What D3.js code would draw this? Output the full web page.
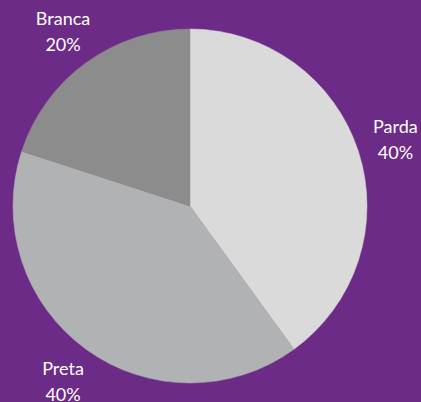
<!DOCTYPE html>
<html>
<head>
<meta charset="utf-8">
<script src="https://cdn.jsdelivr.net/npm/d3@7"></script>
<style>
  html, body { margin: 0; padding: 0; background: #6b2b86; }
  #chart { width: 421px; height: 402px; }
</style>
</head>
<body>
<div id="chart"></div>
<script>
const width = 421;
const height = 402;

// dados do gráfico
const categorias = ["Parda", "Preta", "Branca"];
const valores = [40, 40, 20];
const cores = ["#dadada", "#b1b2b4", "#8c8c8c"];

const cx = 190, cy = 206, raio = 177, raioRotulo = 216;

const svg = d3.select("#chart")
    .append("svg")
    .attr("width", width)
    .attr("height", height);

svg.append("rect")
    .attr("width", width)
    .attr("height", height)
    .attr("fill", "#6b2b86");

const g = svg.append("g").attr("transform", `translate(${cx},${cy})`);

const pie = d3.pie().sort(null).value(d => d.valor);
const dados = categorias.map((c, i) => ({ nome: c, valor: valores[i], cor: cores[i] }));
const arcos = pie(dados);

const arc = d3.arc().innerRadius(0).outerRadius(raio);
const arcRotulo = d3.arc().innerRadius(raioRotulo).outerRadius(raioRotulo);

g.selectAll("path")
    .data(arcos)
    .enter()
    .append("path")
    .attr("d", arc)
    .attr("fill", d => d.data.cor)
    .attr("stroke", d => d.data.cor)
    .attr("stroke-width", 0.5);

// rótulos fora da pizza
const rotulos = g.selectAll("text")
    .data(arcos)
    .enter()
    .append("text")
    .attr("text-anchor", "middle")
    .attr("fill", "#ffffff")
    .style("font-family", "Lato, sans-serif")
    .style("font-size", "18px")
    .attr("transform", d => `translate(${arcRotulo.centroid(d)})`);

rotulos.append("tspan")
    .attr("x", 0)
    .attr("y", -6)
    .text(d => d.data.nome);

rotulos.append("tspan")
    .attr("x", 0)
    .attr("y", 20)
    .text(d => d.data.valor + "%");
</script>
</body>
</html>
